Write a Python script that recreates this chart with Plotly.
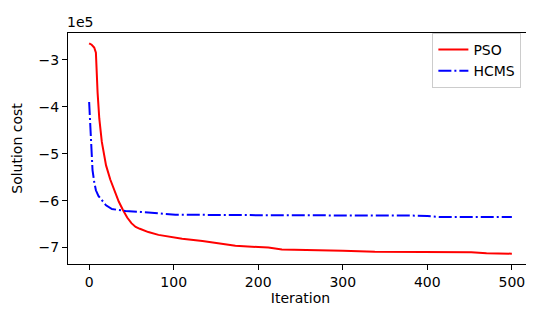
import plotly.graph_objects as go

# PSO convergence curve
pso_iter = [0, 3, 6, 8, 10, 12, 15, 20, 25, 30, 35, 40, 45, 50, 55, 60, 70, 82, 94, 110, 134, 150, 173, 200, 212, 228, 260, 300, 338, 400, 452, 470, 500]
pso_cost = [-2.65, -2.68, -2.74, -2.85, -3.7, -4.25, -4.75, -5.25, -5.55, -5.8, -6.02, -6.2, -6.36, -6.48, -6.56, -6.6, -6.67, -6.73, -6.77, -6.81, -6.86, -6.9, -6.96, -6.99, -7.0, -7.04, -7.06, -7.07, -7.09, -7.1, -7.1, -7.12, -7.13]

# HCMS convergence curve
hcms_iter = [0, 1, 2, 3, 4, 6, 8, 11, 15, 20, 27, 35, 43, 61, 94, 102, 200, 300, 389, 400, 416, 450, 500]
hcms_cost = [-3.9, -4.3, -4.75, -5.1, -5.35, -5.6, -5.78, -5.9, -6.0, -6.1, -6.18, -6.2, -6.22, -6.24, -6.28, -6.3, -6.31, -6.31, -6.32, -6.33, -6.35, -6.35, -6.35]

yticks = [-3, -4, -5, -6, -7]
xticks = [0, 100, 200, 300, 400, 500]

scale = 1e5
font = "DejaVu Sans"
fs = 14

fig = go.Figure()
fig.add_trace(go.Scatter(x=pso_iter, y=[v * scale for v in pso_cost], mode="lines", name="PSO",
                         line=dict(color="red", width=2)))
fig.add_trace(go.Scatter(x=hcms_iter, y=[v * scale for v in hcms_cost], mode="lines", name="HCMS",
                         line=dict(color="blue", width=2, dash="13px,3px,2px,3px")))

axis_common = dict(showline=True, linecolor="black", linewidth=1, mirror=True, showgrid=False,
                   zeroline=False, ticks="outside", ticklen=5, tickcolor="black",
                   tickfont=dict(family=font, size=fs, color="black"))

fig.update_layout(
    width=534, height=309,
    margin=dict(l=60, r=9, t=25, b=53),
    plot_bgcolor="white", paper_bgcolor="white",
    font=dict(family=font, size=fs, color="black"),
    showlegend=True,
    legend=dict(x=0.975, y=1.0, xanchor="right", yanchor="top", bgcolor="white",
                bordercolor="#cccccc", borderwidth=1, font=dict(family=font, size=fs),
                tracegroupgap=0, itemwidth=30),
    xaxis=dict(range=[-25, 525], tickvals=xticks, ticktext=[str(t) for t in xticks],
               title=dict(text="Iteration", font=dict(family=font, size=fs), standoff=2),
               **axis_common),
    yaxis=dict(range=[-7.35e5, -2.43e5], tickvals=[t * scale for t in yticks],
               ticktext=["\u2212" + str(-t) for t in yticks],
               title=dict(text="Solution cost", font=dict(family=font, size=fs), standoff=12),
               **axis_common),
    annotations=[dict(text="1e5", x=0, y=1, xref="paper", yref="paper", xanchor="left",
                      yanchor="bottom", showarrow=False, font=dict(family=font, size=fs),
                      xshift=-3, yshift=1)],
)

fig.write_html("out.html")
